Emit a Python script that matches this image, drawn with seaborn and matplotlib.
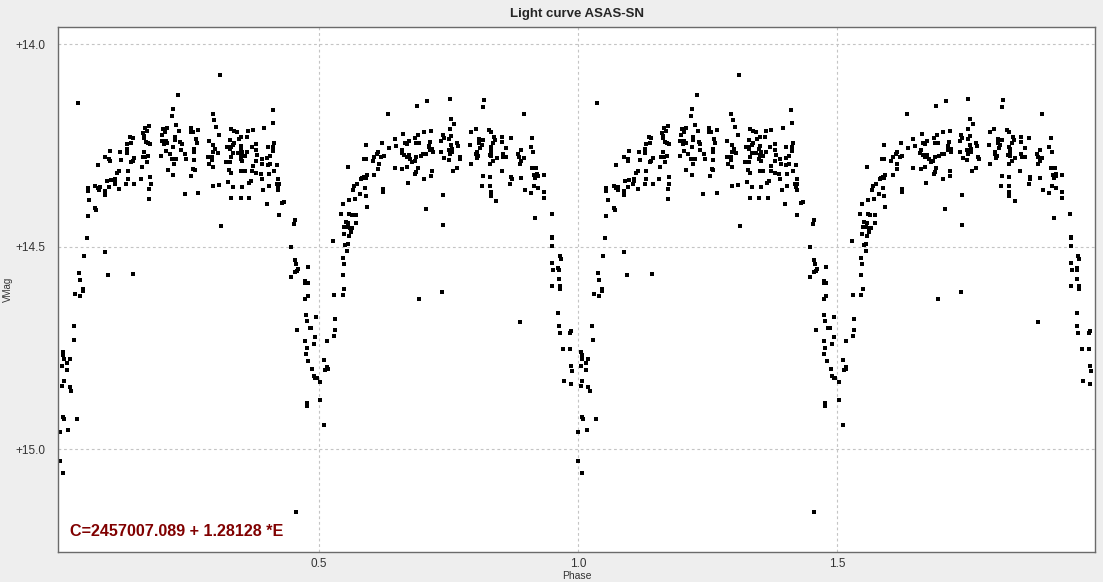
import pandas as pd
import matplotlib
matplotlib.use("Agg")
import matplotlib.pyplot as plt
import seaborn as sns

# one cycle of the folded light curve (phase 0..1)
phase = [
    # rising branch after minimum
    0.036, 0.173, 0.165, 0.169, 0.162, 0.164, 0.163, 0.136, 0.141, 0.131, 0.139, 0.167, 0.171, 0.175,
    0.098, 0.117, 0.130, 0.130, 0.164, 0.161, 0.166, 0.171, 0.088, 0.096, 0.097, 0.119, 0.144, 0.141,
    0.139, 0.168, 0.074, 0.159, 0.115, 0.112, 0.132, 0.175, 0.157, 0.091, 0.099, 0.108, 0.108, 0.132,
    0.129, 0.144, 0.107, 0.176, 0.173, 0.173, 0.096, 0.115, 0.069, 0.074, 0.077, 0.078, 0.055, 0.055,
    0.088, 0.088, 0.057, 0.069, 0.071, 0.055, 0.053, 0.088, 0.048, 0.038, 0.040, 0.094, 0.142, 0.046,
    0.046, 0.030, 0.040, 0.028, 0.029, 0.006, 0.007, 0.008, 0.020, 0.015, 0.015, 0.005, 0.008, 0.005,
    0.020, 0.023, 0.007, 0.009, 0.034, 0.001, 0.017, 0.001, 0.007,
    # maximum 0.2 - 0.4
    0.310, 0.229, 0.220, 0.217, 0.296, 0.299, 0.225, 0.231, 0.302, 0.200, 0.204, 0.208, 0.198, 0.222,
    0.222, 0.253, 0.257, 0.253, 0.268, 0.263, 0.265, 0.308, 0.288, 0.297, 0.301, 0.297, 0.305, 0.287,
    0.295, 0.295, 0.289, 0.297, 0.197, 0.202, 0.205, 0.208, 0.202, 0.196, 0.219, 0.233, 0.236, 0.235,
    0.243, 0.244, 0.205, 0.213, 0.217, 0.225, 0.221, 0.209, 0.220, 0.260, 0.260, 0.260, 0.258, 0.261,
    0.254, 0.242, 0.268, 0.297, 0.308, 0.312, 0.331, 0.337, 0.343, 0.351, 0.346, 0.361, 0.363, 0.373,
    0.395, 0.329, 0.337, 0.335, 0.330, 0.324, 0.329, 0.351, 0.350, 0.352, 0.351, 0.357, 0.350, 0.353,
    0.344, 0.335, 0.331, 0.329, 0.322, 0.362, 0.371, 0.379, 0.380, 0.382, 0.380, 0.390, 0.391, 0.373,
    0.372, 0.380, 0.388, 0.390, 0.393, 0.327, 0.331, 0.351, 0.357, 0.369, 0.365, 0.325, 0.335, 0.352,
    0.331, 0.350, 0.366,
    # secondary minimum
    0.411, 0.412, 0.414, 0.412, 0.412, 0.402, 0.406, 0.401, 0.406, 0.402, 0.420, 0.404, 0.414, 0.422,
    0.419, 0.423, 0.421, 0.422, 0.404, 0.400, 0.433, 0.430, 0.423, 0.455, 0.453, 0.447, 0.455, 0.457,
    0.461, 0.455, 0.459, 0.447, 0.479, 0.474, 0.479, 0.474, 0.479, 0.474, 0.475, 0.477, 0.494, 0.459,
    0.483, 0.486, 0.493, 0.474, 0.490, 0.477, 0.475, 0.480, 0.488, 0.490, 0.493, 0.496, 0.503, 0.477,
    0.477, 0.503, 0.511, 0.456, 0.591, 0.587, 0.591, 0.557, 0.593, 0.588, 0.582, 0.591, 0.584, 0.574,
    0.569, 0.567, 0.570, 0.580, 0.589, 0.591, 0.593, 0.559, 0.547, 0.543, 0.559, 0.564, 0.572, 0.552,
    0.557, 0.549, 0.556, 0.561, 0.565, 0.572, 0.548, 0.558, 0.562, 0.528, 0.551, 0.556, 0.555, 0.546,
    0.548, 0.546, 0.549, 0.530, 0.546, 0.532, 0.532, 0.530, 0.516, 0.511, 0.516, 0.513, 0.517,
    # second maximum
    0.634, 0.690, 0.709, 0.753, 0.755, 0.761, 0.753, 0.794, 0.792, 0.663, 0.647, 0.623, 0.649, 0.636,
    0.692, 0.686, 0.703, 0.717, 0.666, 0.674, 0.670, 0.688, 0.694, 0.715, 0.713, 0.713, 0.739, 0.741,
    0.736, 0.755, 0.752, 0.755, 0.757, 0.751, 0.758, 0.753, 0.767, 0.769, 0.772, 0.773, 0.767, 0.759,
    0.736, 0.742, 0.751, 0.794, 0.615, 0.613, 0.607, 0.604, 0.621, 0.625, 0.616, 0.615, 0.607, 0.661,
    0.660, 0.665, 0.670, 0.674, 0.676, 0.680, 0.688, 0.685, 0.697, 0.702, 0.706, 0.714, 0.720, 0.719,
    0.647, 0.661, 0.670, 0.691, 0.688, 0.686, 0.703, 0.718, 0.717, 0.672, 0.624, 0.624, 0.740, 0.707,
    0.740, 0.738, 0.694,
    # descending branch
    0.819, 0.817, 0.895, 0.803, 0.828, 0.832, 0.810, 0.817, 0.809, 0.814, 0.812, 0.805, 0.804, 0.808,
    0.806, 0.839, 0.840, 0.837, 0.832, 0.833, 0.833, 0.830, 0.833, 0.831, 0.836, 0.843, 0.854, 0.854,
    0.862, 0.870, 0.855, 0.856, 0.862, 0.885, 0.887, 0.888, 0.890, 0.891, 0.895, 0.909, 0.914, 0.912,
    0.853, 0.817, 0.831, 0.815, 0.831, 0.832, 0.832, 0.842, 0.871, 0.872, 0.869, 0.891, 0.912, 0.919,
    0.916, 0.917, 0.921, 0.922, 0.934, 0.897, 0.909, 0.915, 0.922, 0.934, 0.934, 0.917, 0.949, 0.950,
    0.950, 0.950, 0.965, 0.967, 0.950, 0.952, 0.962, 0.963, 0.963, 0.950, 0.966, 0.966, 0.888, 0.962,
    0.963, 0.965, 0.987, 0.985, 0.972, 0.985, 0.987, 0.989, 0.974, 0.987,
]

vmag = [
    14.145, 14.202, 14.208, 14.214, 14.219, 14.226, 14.231, 14.229, 14.231, 14.246, 14.244, 14.242, 14.245, 14.248,
    14.263, 14.266, 14.260, 14.270, 14.267, 14.278, 14.280, 14.276, 14.278, 14.284, 14.290, 14.286, 14.281, 14.289,
    14.292, 14.291, 14.298, 14.303, 14.313, 14.319, 14.314, 14.328, 14.333, 14.337, 14.335, 14.332, 14.339, 14.334,
    14.346, 14.346, 14.345, 14.345, 14.357, 14.382, 14.352, 14.357, 14.351, 14.355, 14.360, 14.354, 14.356, 14.363,
    14.362, 14.373, 14.384, 14.404, 14.410, 14.424, 14.479, 14.513, 14.523, 14.565, 14.582, 14.570, 14.567, 14.604,
    14.610, 14.617, 14.622, 14.695, 14.730, 14.760, 14.767, 14.778, 14.778, 14.788, 14.805, 14.795, 14.831, 14.843,
    14.847, 14.857, 14.920, 14.926, 14.925, 14.957, 14.954, 15.029, 15.059,
    # maximum 0.2 - 0.4
    14.077, 14.125, 14.160, 14.178, 14.174, 14.188, 14.199, 14.214, 14.205, 14.211, 14.216, 14.208, 14.224, 14.229,
    14.237, 14.208, 14.216, 14.216, 14.212, 14.235, 14.244, 14.224, 14.239, 14.249, 14.258, 14.266, 14.268, 14.278,
    14.280, 14.286, 14.296, 14.303, 14.239, 14.243, 14.240, 14.245, 14.248, 14.277, 14.253, 14.241, 14.246, 14.261,
    14.272, 14.284, 14.263, 14.272, 14.285, 14.285, 14.296, 14.312, 14.323, 14.260, 14.267, 14.286, 14.308, 14.311,
    14.326, 14.370, 14.367, 14.351, 14.348, 14.449, 14.210, 14.214, 14.217, 14.229, 14.235, 14.229, 14.214, 14.212,
    14.207, 14.237, 14.244, 14.250, 14.255, 14.253, 14.260, 14.252, 14.260, 14.267, 14.274, 14.277, 14.285, 14.289,
    14.268, 14.270, 14.280, 14.291, 14.291, 14.266, 14.255, 14.246, 14.262, 14.275, 14.288, 14.285, 14.295, 14.301,
    14.313, 14.318, 14.321, 14.334, 14.360, 14.312, 14.319, 14.313, 14.314, 14.338, 14.342, 14.341, 14.352, 14.353,
    14.380, 14.380, 14.380,
    # secondary minimum
    14.163, 14.194, 14.244, 14.253, 14.263, 14.255, 14.277, 14.281, 14.295, 14.298, 14.298, 14.321, 14.314, 14.333,
    14.345, 14.345, 14.353, 14.360, 14.351, 14.394, 14.390, 14.393, 14.421, 14.435, 14.444, 14.501, 14.533, 14.542,
    14.555, 14.563, 14.561, 14.575, 14.551, 14.585, 14.589, 14.589, 14.622, 14.629, 14.669, 14.683, 14.673, 14.705,
    14.700, 14.700, 14.723, 14.733, 14.741, 14.751, 14.764, 14.783, 14.802, 14.819, 14.824, 14.824, 14.835, 14.886,
    14.893, 14.878, 14.941, 15.156, 14.249, 14.284, 14.284, 14.304, 14.324, 14.328, 14.334, 14.331, 14.330, 14.346,
    14.351, 14.360, 14.382, 14.371, 14.356, 14.375, 14.402, 14.385, 14.395, 14.420, 14.420, 14.422, 14.422, 14.440,
    14.443, 14.451, 14.451, 14.455, 14.454, 14.442, 14.469, 14.473, 14.463, 14.486, 14.496, 14.493, 14.511, 14.528,
    14.542, 14.570, 14.604, 14.620, 14.620, 14.678, 14.705, 14.721, 14.733, 14.780, 14.797, 14.805, 14.802,
    # second maximum
    14.174, 14.152, 14.140, 14.135, 14.185, 14.197, 14.210, 14.216, 14.249, 14.221, 14.235, 14.244, 14.252, 14.257,
    14.225, 14.231, 14.216, 14.215, 14.244, 14.240, 14.247, 14.244, 14.244, 14.242, 14.252, 14.255, 14.224, 14.233,
    14.240, 14.226, 14.235, 14.249, 14.258, 14.262, 14.266, 14.271, 14.245, 14.252, 14.278, 14.284, 14.305, 14.313,
    14.266, 14.281, 14.286, 14.296, 14.266, 14.272, 14.278, 14.288, 14.280, 14.277, 14.295, 14.308, 14.323, 14.262,
    14.270, 14.274, 14.280, 14.275, 14.283, 14.291, 14.280, 14.288, 14.277, 14.272, 14.272, 14.262, 14.266, 14.258,
    14.305, 14.309, 14.304, 14.307, 14.316, 14.321, 14.333, 14.313, 14.326, 14.343, 14.359, 14.365, 14.373, 14.407,
    14.447, 14.612, 14.630,
    # descending branch
    14.138, 14.156, 14.172, 14.210, 14.212, 14.217, 14.235, 14.237, 14.245, 14.250, 14.257, 14.266, 14.272, 14.276,
    14.281, 14.229, 14.237, 14.244, 14.253, 14.258, 14.268, 14.273, 14.277, 14.295, 14.288, 14.281, 14.230, 14.242,
    14.257, 14.232, 14.272, 14.279, 14.278, 14.271, 14.278, 14.295, 14.288, 14.262, 14.281, 14.253, 14.267, 14.232,
    14.313, 14.325, 14.328, 14.350, 14.350, 14.365, 14.374, 14.388, 14.328, 14.333, 14.346, 14.331, 14.305, 14.305,
    14.323, 14.331, 14.322, 14.327, 14.324, 14.360, 14.368, 14.351, 14.355, 14.366, 14.379, 14.429, 14.419, 14.476,
    14.480, 14.498, 14.523, 14.531, 14.541, 14.558, 14.552, 14.558, 14.579, 14.597, 14.597, 14.604, 14.686, 14.663,
    14.696, 14.713, 14.708, 14.713, 14.752, 14.752, 14.794, 14.807, 14.831, 14.839,
]

title = "Light curve ASAS-SN"
ephemeris = "C=2457007.089 + 1.28128 *E"
x_ticks = [0.5, 1.0, 1.5]
y_ticks = [14.0, 14.5, 15.0]

sns.set_style("whitegrid")
plt.rcParams["font.family"] = ["Liberation Sans", "DejaVu Sans"]

# the curve is shown over two cycles
one = pd.DataFrame({"phase": phase, "vmag": vmag})
two = one.assign(phase=one["phase"] + 1.0)
df = pd.concat([one, two], ignore_index=True)

fig = plt.figure(figsize=(11.03, 5.82), dpi=100, facecolor="#eeeeee")
ax = fig.add_axes([58 / 1103, 1 - 552 / 582, 1037 / 1103, 525 / 582])
ax.set_facecolor("white")

sns.scatterplot(data=df, x="phase", y="vmag", ax=ax, marker="s", s=9,
                color="black", linewidth=0, legend=False)

ax.set_xlim(-0.0027, 1.997)
ax.set_ylim(15.254, 13.958)
ax.set_xticks(x_ticks)
ax.set_xticklabels([f"{t:.1f}" for t in x_ticks])
ax.set_yticks(y_ticks)
ax.set_yticklabels([f"+{t:.1f}" for t in y_ticks])
ax.tick_params(axis="both", length=0, labelsize=8.5, colors="#333333")
ax.tick_params(axis="y", pad=9)
ax.tick_params(axis="x", pad=4)

ax.grid(True, color="#c4c4c4", linestyle=(0, (2.5, 2.5)), linewidth=0.8)
for s in ax.spines.values():
    s.set_color("#6a6a6a")
    s.set_linewidth(1.0)

ax.set_title(title, fontsize=9.5, fontweight="bold", pad=7)
ax.set_xlabel("Phase", fontsize=7.5, labelpad=1, color="#333333")
ax.set_ylabel("VMag", fontsize=7, color="#333333")
ax.yaxis.set_label_coords(-0.0435, 0.5)

ax.text(0.0116, 0.025, ephemeris, transform=ax.transAxes, color="#800000",
        fontsize=11.6, fontweight="bold", ha="left", va="bottom")

fig.savefig("out.png", dpi=100, facecolor=fig.get_facecolor())
